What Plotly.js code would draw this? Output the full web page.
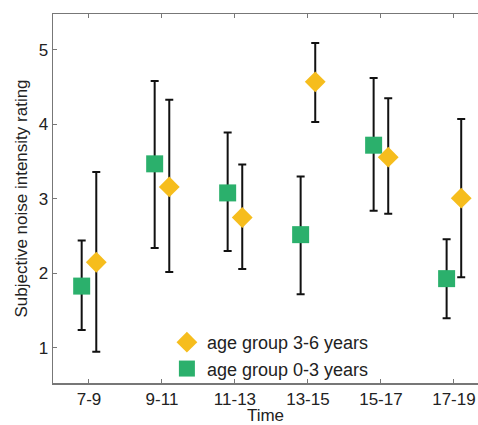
<!DOCTYPE html>
<html>
<head>
<meta charset="utf-8">
<script src="https://cdn.plot.ly/plotly-3.0.1.min.js"></script>
<style>html,body{margin:0;padding:0;background:#fff;}</style>
</head>
<body>
<div id="chart" style="width:478px;height:425px;"></div>
<script>
const categories = ["7-9", "9-11", "11-13", "13-15", "15-17", "17-19"];
// age group 0-3 years (green squares)
const young = [1.83, 3.47, 3.08, 2.52, 3.72, 1.93];
const youngUpper = [2.44, 4.58, 3.89, 3.30, 4.62, 2.46];
const youngLower = [1.24, 2.34, 2.30, 1.72, 2.84, 1.40];
// age group 3-6 years (yellow diamonds)
const older = [2.15, 3.16, 2.75, 4.57, 3.56, 3.01];
const olderUpper = [3.36, 4.33, 3.46, 5.09, 4.35, 4.07];
const olderLower = [0.95, 2.02, 2.06, 4.03, 2.80, 1.95];

const idx = categories.map((c, i) => i);
const shift = 0.1;

const errStyle = {type: 'data', symmetric: false, color: '#111', thickness: 2, width: 4};

const traceYoung = {
  type: 'scatter', mode: 'markers', name: 'age group 0-3 years',
  x: idx.map(i => i - shift), y: young,
  error_y: Object.assign({}, errStyle, {
    array: young.map((v, i) => youngUpper[i] - v),
    arrayminus: young.map((v, i) => v - youngLower[i])
  }),
  marker: {symbol: 'square', size: 17, color: '#2bb06c', line: {width: 0}}
};
const traceOlder = {
  type: 'scatter', mode: 'markers', name: 'age group 3-6 years',
  x: idx.map(i => i + shift), y: older,
  error_y: Object.assign({}, errStyle, {
    array: older.map((v, i) => olderUpper[i] - v),
    arrayminus: older.map((v, i) => v - olderLower[i])
  }),
  marker: {symbol: 'diamond', size: 16, color: '#f6bd1d', line: {width: 0}}
};

const fam = 'Liberation Sans, Arial, sans-serif';
const axisFont = {family: fam, size: 17, color: '#222'};

const layout = {
  width: 478, height: 425,
  margin: {l: 53, r: 0, t: 14, b: 42},
  paper_bgcolor: '#fff', plot_bgcolor: '#fff',
  font: axisFont,
  showlegend: true,
  legend: {x: 0.268, y: 0.16, xanchor: 'left', yanchor: 'top', traceorder: 'reversed',
           bgcolor: 'rgba(0,0,0,0)', font: {family: fam, size: 18, color: '#222'},
           itemsizing: 'trace', tracegroupgap: 0},
  xaxis: {
    range: [-0.493, 5.33], tickvals: idx, ticktext: categories,
    showgrid: false, zeroline: false, showline: true, linecolor: '#777', linewidth: 1.5,
    mirror: 'ticks', ticks: 'inside', ticklen: 4, tickcolor: '#777', tickwidth: 1,
    tickfont: axisFont,
    title: {text: 'Time', font: axisFont, standoff: 3}
  },
  yaxis: {
    range: [0.53, 5.48], tickvals: [1, 2, 3, 4, 5],
    showgrid: false, zeroline: false, showline: true, linecolor: '#777', linewidth: 1.5,
    ticks: 'inside', ticklen: 4, tickcolor: '#777', tickwidth: 1,
    tickfont: axisFont,
    title: {text: 'Subjective noise intensity rating', font: axisFont, standoff: 6}
  }
};

Plotly.newPlot('chart', [traceYoung, traceOlder], layout, {staticPlot: true, displayModeBar: false});
</script>
</body>
</html>
